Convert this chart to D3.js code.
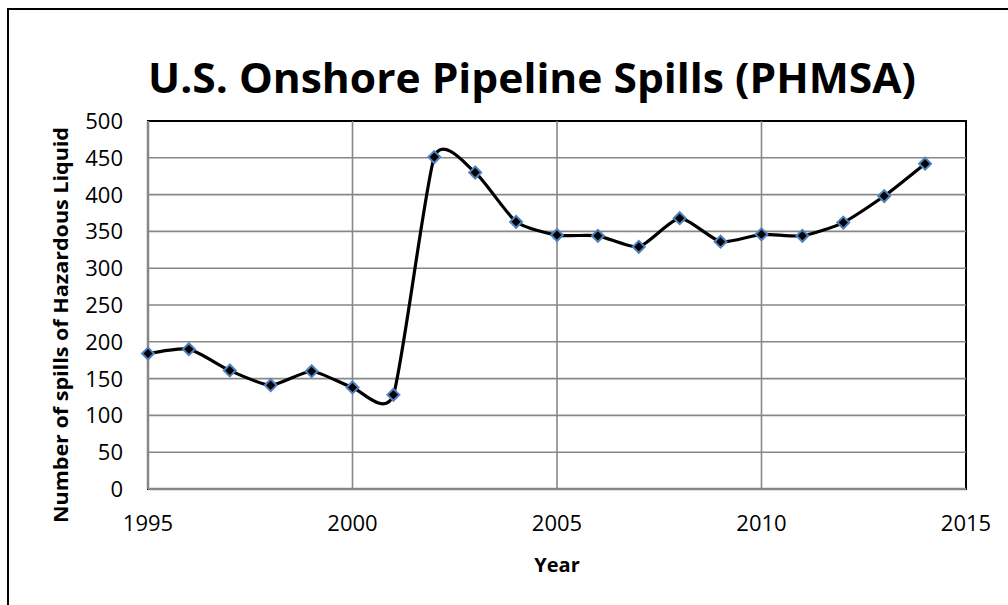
<!DOCTYPE html>
<html>
<head>
<meta charset="utf-8">
<script src="https://cdn.jsdelivr.net/npm/d3@7"></script>
<style>
  body { margin: 0; background: #fff; }
  svg { display: block; font-family: "Open Sans", "Noto Sans", sans-serif; }
</style>
</head>
<body>
<svg id="chart"></svg>
<script>
// spills per year
const years = [1995, 1996, 1997, 1998, 1999, 2000, 2001, 2002, 2003, 2004,
               2005, 2006, 2007, 2008, 2009, 2010, 2011, 2012, 2013, 2014];
const spills = [184, 190, 161, 141, 160, 138, 128, 451, 430, 363,
                345, 344, 329, 368, 336, 346, 344, 362, 398, 442];
const xTicks = [1995, 2000, 2005, 2010, 2015];
const yTicks = [0, 50, 100, 150, 200, 250, 300, 350, 400, 450, 500];

const width = 1008, height = 605;
const margin = {top: 121, right: 42, bottom: 116, left: 148};

const svg = d3.select("#chart")
    .attr("width", width)
    .attr("height", height);

// outer chart border (right/bottom fall outside the picture)
svg.append("rect")
    .attr("x", 8).attr("y", 9)
    .attr("width", 1100).attr("height", 700)
    .attr("fill", "none")
    .attr("stroke", "#000")
    .attr("stroke-width", 2);

const x = d3.scaleLinear()
    .domain([1995, 2015])
    .range([margin.left, width - margin.right]);

const y = d3.scaleLinear()
    .domain([0, 500])
    .range([height - margin.bottom, margin.top]);

// plot area frame
svg.append("rect")
    .attr("x", x(1995)).attr("y", y(500))
    .attr("width", x(2015) - x(1995))
    .attr("height", y(0) - y(500))
    .attr("fill", "none")
    .attr("stroke", "#000")
    .attr("stroke-width", 2);

// gridlines
svg.append("g")
  .selectAll("line")
  .data(yTicks.slice(0, -1))
  .join("line")
    .attr("x1", x(1995)).attr("x2", x(2015))
    .attr("y1", d => y(d)).attr("y2", d => y(d))
    .attr("stroke", "#878787")
    .attr("stroke-width", d => d === 0 ? 2.5 : 1.6);

svg.append("g")
  .selectAll("line")
  .data(xTicks.slice(0, -1))
  .join("line")
    .attr("x1", d => x(d)).attr("x2", d => x(d))
    .attr("y1", y(0)).attr("y2", y(500))
    .attr("stroke", "#878787")
    .attr("stroke-width", d => d === 1995 ? 2.5 : 1.6);

// tick labels
svg.append("g")
  .selectAll("text")
  .data(yTicks)
  .join("text")
    .attr("x", x(1995) - 25)
    .attr("y", d => y(d))
    .attr("dy", "0.36em")
    .attr("text-anchor", "end")
    .attr("font-size", 22)
    .text(d => d);

svg.append("g")
  .selectAll("text")
  .data(xTicks)
  .join("text")
    .attr("x", d => x(d))
    .attr("y", 531)
    .attr("text-anchor", "middle")
    .attr("font-size", 22)
    .text(d => d);

// titles
svg.append("text")
    .attr("x", 532).attr("y", 93)
    .attr("text-anchor", "middle")
    .attr("font-size", 42)
    .attr("font-weight", "bold")
    .attr("textLength", 768)
    .attr("lengthAdjust", "spacingAndGlyphs")
    .text("U.S. Onshore Pipeline Spills (PHMSA)");

svg.append("text")
    .attr("x", 557).attr("y", 572)
    .attr("text-anchor", "middle")
    .attr("font-size", 20)
    .attr("font-weight", "bold")
    .text("Year");

svg.append("text")
    .attr("transform", "translate(68,325) rotate(-90)")
    .attr("text-anchor", "middle")
    .attr("font-size", 20)
    .attr("font-weight", "bold")
    .attr("textLength", 396)
    .attr("lengthAdjust", "spacingAndGlyphs")
    .text("Number of spills of Hazardous Liquid");

// smoothed line like the spreadsheet's
const line = d3.line()
    .x((d, i) => x(years[i]))
    .y(d => y(d))
    .curve(d3.curveCardinal.tension(0.4));

svg.append("path")
    .datum(spills)
    .attr("d", line)
    .attr("fill", "none")
    .attr("stroke", "#000")
    .attr("stroke-width", 3.2);

// diamond markers
svg.append("g")
  .selectAll("path")
  .data(spills)
  .join("path")
    .attr("transform", (d, i) => `translate(${x(years[i])},${y(d)})`)
    .attr("d", d3.symbol(d3.symbolDiamond2, 90))
    .attr("fill", "#000")
    .attr("stroke", "#4f81bd")
    .attr("stroke-width", 2);
</script>
</body>
</html>
